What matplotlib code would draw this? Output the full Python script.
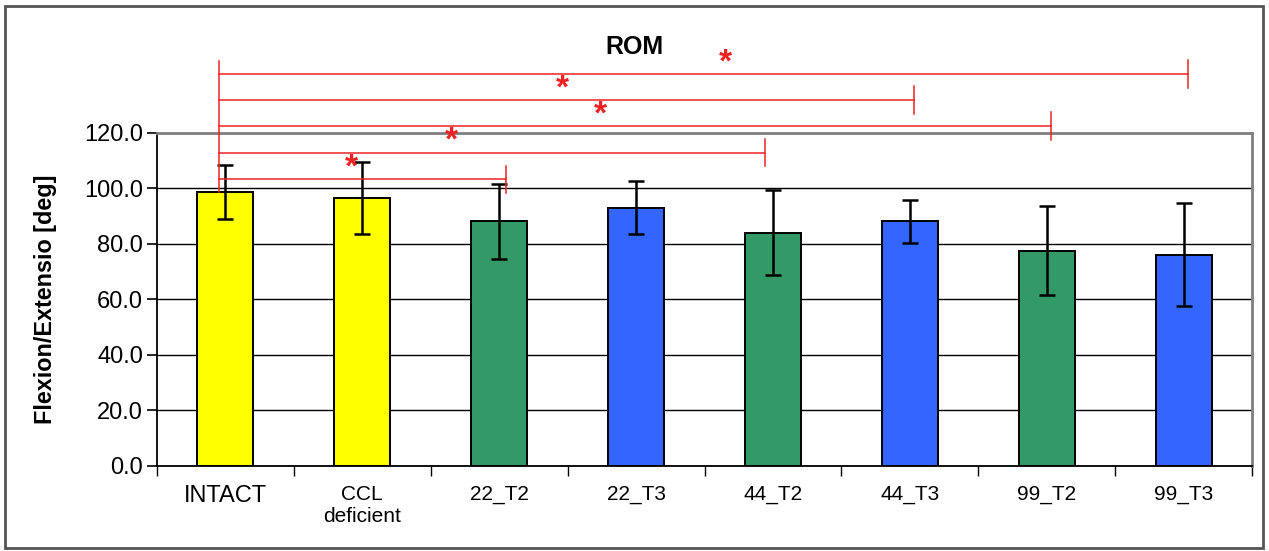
import matplotlib
matplotlib.use("Agg")
import matplotlib.pyplot as plt
from matplotlib.patches import Rectangle
from matplotlib import font_manager

# data
groups = ["INTACT", "CCL\ndeficient", "22_T2", "22_T3", "44_T2", "44_T3", "99_T2", "99_T3"]
rom_mean = [98.5, 96.5, 88.0, 93.0, 84.0, 88.0, 77.5, 76.0]
rom_sd = [9.7, 13.0, 13.5, 9.5, 15.3, 7.7, 16.0, 18.5]
bar_colors = ["#FFFF00", "#FFFF00", "#339966", "#3366FF", "#339966", "#3366FF", "#339966", "#3366FF"]

# significant comparisons vs INTACT (index of the other group), top to bottom
sig_pairs = [7, 5, 6, 4, 2]

names = {f.name for f in font_manager.fontManager.ttflist}
narrow = "Liberation Sans Narrow" if "Liberation Sans Narrow" in names else "Liberation Sans"

plt.rcParams["font.family"] = ["Liberation Sans", "DejaVu Sans"]

fig = plt.figure(figsize=(12.69, 5.51), dpi=100)
ax = fig.add_axes([157 / 1269, 1 - 466 / 551, (1252 - 157) / 1269, (466 - 132.5) / 551])

x = list(range(len(groups)))
ax.bar(x, rom_mean, width=0.41, color=bar_colors, edgecolor="black", linewidth=1.4, zorder=3)
ax.errorbar(x, rom_mean, yerr=rom_sd, fmt="none", ecolor="black", elinewidth=1.8,
            capsize=6, capthick=1.8, zorder=4)

ax.set_xlim(-0.5, len(groups) - 0.5)
ax.set_ylim(0, 120)
ax.set_yticks(range(0, 121, 20))
ax.set_yticklabels([f"{v:.1f}" for v in range(0, 121, 20)], fontsize=17)
ax.yaxis.grid(True, color="black", linewidth=1.0, zorder=0)
ax.tick_params(axis="y", direction="out", length=7, width=1.2, pad=3)

ax.set_xticks(x)
ax.set_xticklabels(groups)
ax.set_xticks([i - 0.5 for i in range(len(groups) + 1)], minor=True)
ax.tick_params(axis="x", which="major", length=0, pad=14)
ax.tick_params(axis="x", which="minor", direction="out", length=7, width=1.0)
for i, lab in enumerate(ax.get_xticklabels()):
    if i == 0:
        lab.set_fontfamily("Liberation Sans")
        lab.set_fontsize(17)
    else:
        lab.set_fontfamily(narrow)
        lab.set_fontsize(15)

for s in ["left", "bottom"]:
    ax.spines[s].set_color("black")
    ax.spines[s].set_linewidth(1.3)
for s in ["top", "right"]:
    ax.spines[s].set_color("#808080")
    ax.spines[s].set_linewidth(2.0)

ax.set_ylabel("Flexion/Extensio [deg]", fontsize=16.8, fontweight="bold")
ax.yaxis.set_label_coords(-0.091, 0.5)
fig.text(0.5, 1 - 47 / 551, "ROM", ha="center", va="center", fontsize=18, fontweight="bold")

# significance brackets
red = "#EE2222"
levels = [141.0, 131.7, 122.2, 112.8, 103.1]
end_shift = [0.03, 0.03, 0.03, -0.06, 0.05]
star_x = [3.65, 2.46, 2.74, 1.65, 0.92]
x0 = -0.047
ax.plot([x0, x0], [rom_mean[0], 145.6], color=red, lw=1.1, clip_on=False, zorder=5)
for end, sh, lev, sx in zip(sig_pairs, end_shift, levels, star_x):
    xe = end + sh
    ax.plot([x0, xe], [lev, lev], color=red, lw=1.1, clip_on=False, zorder=5)
    ax.plot([xe, xe], [lev - 5, lev + 5], color=red, lw=1.1, clip_on=False, zorder=5)
    ax.text(sx, lev + 4.0, "*", color=red, fontsize=24, fontweight="bold", ha="center", va="center",
            clip_on=False, zorder=6)

# outer frame
fig.patches.append(Rectangle((5 / 1269, 3 / 551), 1258 / 1269, 542 / 551, transform=fig.transFigure,
                             fill=False, edgecolor="#555555", linewidth=2.0))

fig.savefig("out.png", dpi=100)
